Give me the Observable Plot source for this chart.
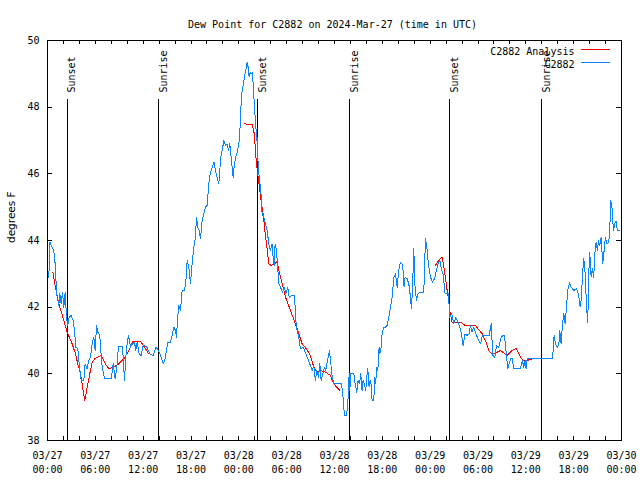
<!DOCTYPE html>
<html><head><meta charset="utf-8">
<script src="https://cdn.jsdelivr.net/npm/d3@7"></script>
<script src="https://cdn.jsdelivr.net/npm/@observablehq/plot@0.6"></script>
<style>body{margin:0;background:#fff} svg{display:block}</style>
</head><body><div id="chart"></div>
<script>
const title = "Dew Point for C2882 on 2024-Mar-27 (time in UTC)";
const yLabel = "degrees F";
const startTime = "2024-03-27T00:00:00Z";
const endTime = "2024-03-30T00:00:00Z";
const legendLabels = ["C2882 Analysis", "C2882"];

// hour offsets from start, value in degrees F
const obsDay1 = [[0.17,42.9],[0.29,43.95],[0.59,43.8],[0.79,43.7],[0.96,43.3],[1.05,42.9],[1.13,42.4],[1.30,42.2],[1.42,42.05],[1.55,42.4],[1.71,42.1],[1.88,42.45],[2.05,42.0],[2.22,42.45],[2.38,41.7],[2.55,41.45],[2.72,41.7],[2.97,41.75],[3.22,41.6],[3.39,41.3],[3.55,40.8],[3.80,40.75],[3.97,40.3],[4.22,39.8],[4.56,39.8],[4.72,40.3],[4.97,40.15],[5.18,40.4],[5.39,40.5],[5.60,40.9],[5.81,41.1],[5.98,40.7],[6.15,41.45],[6.31,41.25],[6.56,41.15],[6.81,40.3],[7.15,39.85],[7.99,39.85],[8.24,40.3],[8.49,39.85],[8.74,40.3],[8.90,40.82],[9.41,40.82],[9.66,39.8],[9.82,40.5],[9.99,40.9],[10.16,41.15],[10.41,40.8],[10.66,40.9],[10.91,40.95],[11.08,40.7],[11.25,40.95],[11.50,40.6],[11.75,40.55],[12.00,40.85],[12.42,40.82],[12.83,40.6],[13.25,40.55],[13.59,40.8],[13.92,40.7],[14.17,40.55],[14.51,40.3],[14.76,40.45],[14.92,40.7],[15.09,40.95],[15.43,40.95],[15.64,41.15],[15.84,41.4],[16.05,41.3],[16.18,41.1],[16.30,41.6],[16.47,42.05],[16.68,41.9],[16.89,42.5],[17.18,42.5],[17.35,42.75],[17.52,43.4],[17.73,43.2],[17.93,42.7],[18.10,43.2],[18.35,43.8],[18.56,44.1],[18.69,44.7],[18.85,44.4],[19.02,44.3],[19.19,44.05],[19.40,44.6],[19.61,44.8],[19.82,45.0],[20.03,45.05],[20.23,45.7],[20.44,46.05],[20.69,46.2],[20.90,46.35],[21.07,46.1],[21.28,45.9],[21.49,45.7],[21.61,46.1],[21.74,46.5],[21.91,46.7],[22.12,47.0],[22.32,46.85],[22.53,46.9],[22.70,46.7],[22.87,46.9],[23.12,46.3],[23.29,45.9],[23.45,46.3],[23.62,46.5],[23.79,46.65],[24.00,46.9],[24.12,47.2]];
const obsDay2 = [[24.21,47.8],[24.41,48.5],[24.54,48.65],[24.71,48.9],[24.87,49.1],[25.04,49.35],[25.17,49.2],[25.29,48.9],[25.42,49.05],[25.54,49.0],[25.71,49.05],[25.88,48.35],[26.00,47.85],[26.13,47.5],[26.21,47.0],[26.30,47.1],[26.42,46.3],[26.59,45.8],[26.76,45.5],[26.92,44.8],[27.13,44.7],[27.34,44.5],[27.55,44.3],[27.76,43.9],[27.97,43.7],[28.17,43.9],[28.30,43.5],[28.43,43.25],[28.55,43.9],[28.72,43.7],[28.85,43.3],[29.01,42.7],[29.22,42.6],[29.47,42.45],[29.72,42.6],[29.89,42.4],[30.14,42.6],[30.31,42.3],[30.64,42.35],[30.98,42.35],[31.15,41.6],[31.31,41.3],[31.52,41.1],[31.73,40.75],[32.07,40.8],[32.40,40.6],[32.65,40.45],[32.98,40.25],[33.19,40.1],[33.40,40.25],[33.61,39.8],[33.78,40.1],[33.99,39.9],[34.16,40.3],[34.32,39.8],[34.53,40.0],[34.74,40.2],[34.91,40.1],[35.12,40.4],[35.37,40.7],[35.54,40.3],[35.70,39.95],[35.91,39.7],[36.41,39.7],[36.87,39.7],[37.04,39.4],[37.17,38.95],[37.29,38.75],[37.46,38.75],[37.58,38.9],[37.71,39.3],[37.84,40.0],[37.92,39.5],[38.05,40.0],[38.42,40.0],[38.59,39.7],[38.80,39.45],[38.96,39.8],[39.13,39.7],[39.30,40.0],[39.46,39.5],[39.59,39.8],[39.76,39.7],[39.92,39.5],[40.05,39.9],[40.17,40.15],[40.34,39.6],[40.47,39.8],[40.59,39.7],[40.72,39.2],[40.93,39.2],[41.05,39.9],[41.18,39.7],[41.26,40.2],[41.43,40.1],[41.60,40.8]];
const obsDay3 = [[41.68,40.6],[41.85,40.8],[41.97,41.2],[42.18,41.4],[42.39,41.4],[42.60,41.45],[42.81,41.7],[43.02,42.0],[43.23,42.3],[43.44,42.9],[43.65,43.0],[43.86,42.6],[44.06,43.1],[44.27,43.35],[44.48,43.3],[44.61,43.1],[44.73,42.6],[44.86,42.9],[45.11,42.85],[45.32,42.7],[45.53,42.3],[45.65,41.95],[45.78,42.5],[45.95,43.75],[46.07,42.7],[46.28,42.2],[46.49,42.4],[46.78,42.45],[47.20,42.45],[47.41,44.05],[47.58,43.8],[47.78,43.3],[48.04,42.9],[48.29,42.75],[48.54,42.85],[48.79,43.1],[49.00,43.3],[49.21,43.4],[49.41,43.15],[49.62,43.0],[49.87,42.4],[50.29,42.4],[50.46,41.7],[50.71,41.8],[50.96,41.5],[51.21,41.7],[51.59,41.5],[51.88,41.25],[52.13,40.85],[52.38,41.2],[52.63,41.15],[52.88,41.2],[53.05,41.45],[53.26,41.25],[53.47,41.4],[53.72,41.2],[54.01,41.05],[54.31,40.9],[54.56,41.15],[54.98,41.15],[55.40,41.15],[55.65,41.5],[55.86,40.55],[56.11,40.5],[56.32,40.85],[56.61,40.8],[56.91,41.1],[57.16,41.15],[57.32,41.15],[57.57,40.55],[57.74,40.15],[58.08,40.45],[58.29,40.45],[58.49,40.15],[59.12,40.15],[59.32,40.15],[59.57,40.4],[59.74,40.2],[59.91,40.4],[60.03,40.15],[60.16,40.45],[63.30,40.45],[63.43,40.7],[63.55,41.15],[63.72,40.9],[63.93,40.8],[64.13,40.85],[64.26,41.3],[64.43,40.9],[64.60,41.5],[64.77,41.8],[64.93,41.5],[65.10,42.0],[65.26,42.5],[65.47,42.73],[65.68,42.6],[66.02,42.5],[66.35,42.55],[66.60,42.4],[66.81,42.0],[66.98,42.3],[67.10,42.95],[67.27,43.45],[67.48,42.9],[67.60,42.05],[67.77,41.55],[67.89,43.0],[68.02,43.65],[68.19,42.9],[68.35,43.15],[68.52,42.9],[68.65,43.6],[68.81,43.95],[68.98,43.7],[69.11,44.0],[69.27,43.85],[69.44,44.1],[69.65,43.3],[69.82,43.7],[69.98,44.1],[70.19,43.9],[70.40,43.95],[70.53,44.35],[70.65,45.2],[70.82,44.95],[70.99,44.3],[71.15,44.5],[71.32,44.58],[71.49,44.3],[71.78,44.3]];

const analysis1 = [[0.67,43.05],[1.0,42.6],[1.42,42.1],[2.05,41.6],[2.47,41.25],[3.09,40.9],[3.51,40.6],[3.8,40.3],[4.14,40.0],[4.47,39.5],[4.68,39.2],[4.97,39.6],[5.3,40.0],[5.6,40.35],[6.0,40.47],[6.7,40.55],[7.27,40.3],[7.69,40.15],[8.3,40.2],[8.95,40.3],[9.57,40.45],[10.2,40.7],[10.74,40.98],[11.66,40.98],[12.17,40.8],[12.7,40.6]];
const analysis2 = [[24.71,47.5],[25.67,47.47],[25.88,47.3],[26.0,47.0],[26.21,46.3],[26.38,46.0],[26.63,45.5],[26.84,45.1],[27.05,44.8],[27.26,44.3],[27.47,43.9],[27.76,43.3],[28.05,43.25],[28.47,43.3],[28.81,43.37],[29.01,43.1],[29.43,42.7],[29.85,42.3],[30.48,41.9],[31.10,41.5],[31.52,41.2],[31.94,40.9],[32.48,40.75],[32.98,40.55],[33.40,40.2],[33.74,40.05],[34.24,40.1],[34.87,40.05],[35.49,39.95],[35.91,39.7],[36.66,39.5]];
const analysis3 = [[48.66,43.25],[49.08,43.4],[49.50,43.5],[49.79,43.1],[50.13,42.5],[50.33,42.2],[50.46,41.9],[50.75,41.55],[51.80,41.55],[52.42,41.45],[53.68,41.45],[54.52,41.2],[54.93,41.0],[55.35,40.7],[55.77,40.6],[56.40,40.65],[56.81,40.7],[57.65,40.55],[58.28,40.7],[58.78,40.77],[59.11,40.6],[59.61,40.4],[60.15,40.4],[60.78,40.45]];

const eventNames = ["Sunset", "Sunrise", "Sunset", "Sunrise", "Sunset", "Sunrise"];
const eventHours = [2.47, 13.92, 26.38, 37.88, 50.47, 62.0];

const labelTickHours = [0, 6, 12, 18, 24, 30, 36, 42, 48, 54, 60, 66, 72];
const minorTickHours = d3.range(2, 72, 2);
const yTicks = [38, 40, 42, 44, 46, 48, 50];
const yTickInner = [40, 42, 44, 46, 48];

const t0 = Date.parse(startTime);
const toDate = h => new Date(t0 + h * 3600000);

const obs = [...obsDay1, ...obsDay2, ...obsDay3].map(([h, v]) => ({t: toDate(h), v}));
const ana = [analysis1, analysis2, analysis3].flatMap((seg, i) => seg.map(([h, v]) => ({t: toDate(h), v, seg: i})));
const events = eventNames.map((name, i) => ({name, t: toDate(eventHours[i])}));
const labelTicks = labelTickHours.map(toDate);
const minorTicks = minorTickHours.map(toDate);
const fmtDate = d3.utcFormat("%m/%d"), fmtTime = d3.utcFormat("%H:%M");

// plot frame geometry (pixels) and inward tick lengths converted to data units
const W = 640, H = 480, mT = 40, mR = 19, mB = 40, mL = 47;
const yMin = 38, yMax = 50;
const xTickLen = 4 * (yMax - yMin) / (H - mT - mB);          // in degrees
const yTickLenMs = 5 * (Date.parse(endTime) - t0) / (W - mL - mR); // in ms

const mono = "'DejaVu Sans Mono', monospace";
const blue = "#0a84ff", red = "#ff0000";
const crisp = "crispEdges";

const chart = Plot.plot({
  width: W, height: H,
  marginTop: mT, marginRight: mR, marginBottom: mB, marginLeft: mL,
  style: {fontFamily: mono, fontSize: "10px", background: "white", color: "black"},
  x: {type: "utc", domain: [new Date(startTime), new Date(endTime)]},
  y: {domain: [yMin, yMax]},
  marks: [
    Plot.ruleX(events, {x: "t", insetTop: 59, stroke: "black", strokeWidth: 1, shapeRendering: crisp}),
    Plot.text(events, {x: "t", text: "name", rotate: -90, textAnchor: "start", frameAnchor: "top", dy: 52, dx: 1, fontFamily: mono, fontSize: 10, fill: "black"}),
    Plot.ruleX(minorTicks, {x: d => d, y1: yMin, y2: yMin + xTickLen, stroke: "black", strokeWidth: 1, shapeRendering: crisp}),
    Plot.ruleX(minorTicks, {x: d => d, y1: yMax - xTickLen, y2: yMax, stroke: "black", strokeWidth: 1, shapeRendering: crisp}),
    Plot.ruleY(yTickInner, {y: d => d, x1: new Date(t0), x2: new Date(t0 + yTickLenMs), stroke: "black", strokeWidth: 1, shapeRendering: crisp}),
    Plot.ruleY(yTickInner, {y: d => d, x1: new Date(Date.parse(endTime) - yTickLenMs), x2: new Date(endTime), stroke: "black", strokeWidth: 1, shapeRendering: crisp}),
    Plot.line(ana, {x: "t", y: "v", z: "seg", stroke: red, strokeWidth: 1, curve: "linear", shapeRendering: crisp}),
    Plot.line(obs, {x: "t", y: "v", stroke: blue, strokeWidth: 1, curve: "linear", shapeRendering: crisp}),
    Plot.frame({stroke: "black", strokeWidth: 1, shapeRendering: crisp}),
    Plot.axisX(labelTicks, {anchor: "bottom", tickSize: 0, tickPadding: 9, label: null, lineHeight: 1.4,
      tickFormat: d => fmtDate(d) + "\n" + fmtTime(d), fontSize: 10}),
    Plot.axisY(yTicks, {anchor: "left", tickSize: 0, tickPadding: 8, label: null, fontSize: 10}),
    Plot.text([title], {frameAnchor: "top", dy: -20, dx: -2, fontSize: 10, fill: "black"}),
    Plot.text([yLabel], {frameAnchor: "left", rotate: -90, dx: -36, dy: 2.5, fontFamily: "'DejaVu Sans', sans-serif", fontSize: 10.5, fill: "black"}),
    Plot.text([legendLabels.join("\n")], {frameAnchor: "top-right", textAnchor: "end", lineAnchor: "top", dx: -47, dy: 5.2, lineHeight: 1.33, fontSize: 10, fill: "black"})
  ]
});

const svg = d3.select(chart);
// legend swatches
svg.append("line").attr("x1", 581).attr("x2", 610).attr("y1", 49.5).attr("y2", 49.5).attr("stroke", red).attr("stroke-width", 1);
svg.append("line").attr("x1", 581).attr("x2", 610).attr("y1", 62.5).attr("y2", 62.5).attr("stroke", blue).attr("stroke-width", 1);
document.getElementById("chart").appendChild(chart);
</script>
</body></html>
